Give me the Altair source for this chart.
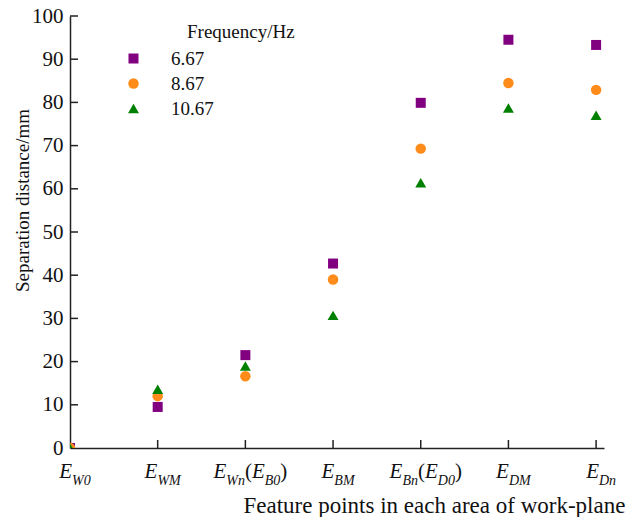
import altair as alt
import pandas as pd

# ---------------- data ----------------
categories = ["E_W0", "E_WM", "E_Wn(E_B0)", "E_BM", "E_Bn(E_D0)", "E_DM", "E_Dn"]
freqs = ["6.67", "8.67", "10.67"]
sep_667 = [0.0, 9.5, 21.5, 42.7, 79.9, 94.5, 93.3]
sep_867 = [0.0, 12.0, 16.6, 39.0, 69.3, 84.5, 82.9]
sep_1067 = [0.0, 13.6, 19.0, 30.7, 61.4, 78.7, 77.0]
y_ticks = [0, 10, 20, 30, 40, 50, 60, 70, 80, 90, 100]
# tick label pieces: (text, kind)  m = main italic, s = subscript italic, p = upright paren
tick_labels = [
    [("E", "m"), ("W0", "s")],
    [("E", "m"), ("WM", "s")],
    [("E", "m"), ("Wn", "s"), ("(", "p"), ("E", "m"), ("B0", "s"), (")", "p")],
    [("E", "m"), ("BM", "s")],
    [("E", "m"), ("Bn", "s"), ("(", "p"), ("E", "m"), ("D0", "s"), (")", "p")],
    [("E", "m"), ("DM", "s")],
    [("E", "m"), ("Dn", "s")],
]
x_title = "Feature points in each area of work-plane"
y_title = "Separation distance/mm"
legend_title = "Frequency/Hz"

# ---------------- layout / style ----------------
W, H = 534, 432
XMAX = 6.09
PX_PER_UNIT = W / XMAX
SERIF = "Times New Roman, Liberation Serif, serif"
MAIN_FS, SUB_FS = 21, 14
LABEL_SHIFT = 5
char_w = {"E": 0.611, "W": 0.833, "M": 0.833, "B": 0.611, "D": 0.722,
          "n": 0.5, "0": 0.5, "(": 0.333, ")": 0.333}

rows = []
for i, cat in enumerate(categories):
    for f, vals in zip(freqs, [sep_667, sep_867, sep_1067]):
        rows.append({"idx": i, "cat": cat, "freq": f, "sep": vals[i]})
df = pd.DataFrame(rows)

seg_rows = []
for i, pieces in enumerate(tick_labels):
    widths = []
    for txt, kind in pieces:
        fs = SUB_FS if kind == "s" else MAIN_FS
        widths.append(sum(char_w.get(c, 0.5) for c in txt) * fs)
    total = sum(widths)
    off = -total / 2 + LABEL_SHIFT
    for (txt, kind), w in zip(pieces, widths):
        seg_rows.append({"pos": i + off / PX_PER_UNIT, "text": txt, "kind": kind})
        off += w
seg_df = pd.DataFrame(seg_rows)

xscale = alt.Scale(domain=[0, XMAX], nice=False, zero=True)
yscale = alt.Scale(domain=[0, 100], nice=False)

colors = ["#800080", "#FF8C1A", "#008000"]
shapes = ["square", "circle", "triangle-up"]
sizes = [100, 120, 210]

legend = alt.Legend(
    orient="none", legendX=54, legendY=33, title=None,
    symbolOpacity=1, symbolStrokeWidth=0,
    labelFont=SERIF, labelFontSize=19, labelColor="#111",
    labelOffset=28, rowPadding=5, padding=0,
)

points = alt.Chart(df).mark_point(filled=True, opacity=1, clip=True).encode(
    x=alt.X("idx:Q", scale=xscale,
            axis=alt.Axis(labels=False, ticks=False, grid=False, tickSize=0,
                          values=list(range(7)), domainColor="#222", domainWidth=1.5,
                          title=x_title, titleFont=SERIF, titleFontSize=23,
                          titleFontWeight="normal", titleColor="#111",
                          titleAlign="left", titleAnchor="start",
                          titleX=173, titleY=64, titleBaseline="alphabetic")),
    y=alt.Y("sep:Q", scale=yscale,
            axis=alt.Axis(values=y_ticks, ticks=False, tickSize=0, grid=False,
                          labelFont=SERIF, labelFontSize=21, labelColor="#111",
                          labelPadding=7, domainColor="#222", domainWidth=1.5,
                          title=y_title, titleFont=SERIF, titleFontSize=19,
                          titleFontWeight="normal", titleColor="#111",
                          titleAngle=270, titleAlign="center", titleBaseline="middle",
                          titleX=-48, titleY=184)),
    color=alt.Color("freq:N", scale=alt.Scale(domain=freqs, range=colors), legend=legend),
    shape=alt.Shape("freq:N", scale=alt.Scale(domain=freqs, range=shapes), legend=legend),
    size=alt.Size("freq:N", scale=alt.Scale(domain=freqs, range=sizes), legend=legend),
)

xtick_df = pd.DataFrame({"idx": list(range(1, 7))})
xticks = alt.Chart(xtick_df).mark_rule(color="#222", strokeWidth=1.5).encode(
    x=alt.X("idx:Q", scale=xscale),
    y=alt.value(H - 8), y2=alt.value(H),
)
ytick_df = pd.DataFrame({"v": y_ticks[1:]})
yticks = alt.Chart(ytick_df).mark_rule(color="#222", strokeWidth=1.5).encode(
    y=alt.Y("v:Q", scale=yscale),
    x=alt.value(0), x2=alt.value(8),
)

main_lbl = alt.Chart(seg_df).transform_filter("datum.kind == 'm'").mark_text(
    font=SERIF, fontSize=MAIN_FS, fontStyle="italic", align="left",
    baseline="alphabetic", color="#111").encode(
    x=alt.X("pos:Q", scale=xscale), y=alt.value(462), text="text:N")
sub_lbl = alt.Chart(seg_df).transform_filter("datum.kind == 's'").mark_text(
    font=SERIF, fontSize=SUB_FS, fontStyle="italic", align="left",
    baseline="alphabetic", color="#111").encode(
    x=alt.X("pos:Q", scale=xscale), y=alt.value(469), text="text:N")
par_lbl = alt.Chart(seg_df).transform_filter("datum.kind == 'p'").mark_text(
    font=SERIF, fontSize=MAIN_FS, align="left",
    baseline="alphabetic", color="#111").encode(
    x=alt.X("pos:Q", scale=xscale), y=alt.value(462), text="text:N")

leg_title = alt.Chart(pd.DataFrame({"t": [legend_title]})).mark_text(
    font=SERIF, fontSize=19, align="left", baseline="alphabetic", color="#111").encode(
    x=alt.value(117), y=alt.value(22), text="t:N")

chart = alt.layer(points, xticks, yticks, main_lbl, sub_lbl, par_lbl, leg_title).properties(
    width=W, height=H,
    autosize=alt.AutoSizeParams(type="none"),
    padding={"left": 70, "top": 16, "right": 24, "bottom": 69},
    background="white",
).configure_view(stroke=None)

chart.save("out.html", embed_options={"renderer": "svg", "actions": False})
